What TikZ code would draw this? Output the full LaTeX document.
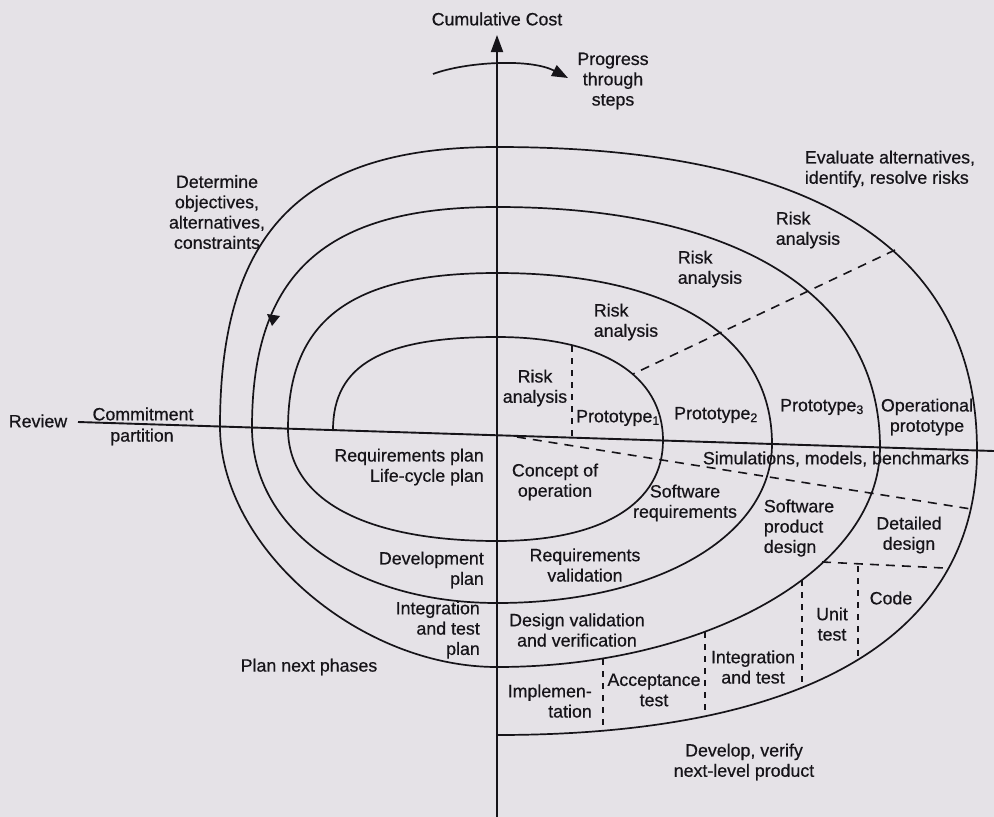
\documentclass[tikz,border=0pt]{standalone}
\usepackage{fontspec}
\setmainfont{Liberation Sans}[FakeBold=0.6]
\usetikzlibrary{arrows.meta}
\definecolor{paper}{RGB}{229,226,231}
\definecolor{ink}{RGB}{22,20,25}

\begin{document}
\begin{tikzpicture}[x=1pt,y=-1pt,
  lbl/.style={inner sep=0pt, text=ink, font=\fontsize{17.8}{20.3}\selectfont},
  curve/.style={draw=ink, line width=1.7pt},
  axisline/.style={draw=ink, line width=1.9pt},
  guide/.style={draw=ink, line width=1.6pt, dash pattern=on 9pt off 7pt},
  tick/.style={draw=ink, line width=1.6pt, dash pattern=on 6pt off 6pt},
]
\fill[paper] (0,0) rectangle (994,817);
\useasboundingbox (0,0) rectangle (994,817);

% axes
\coordinate (ytop) at (497,35);
\coordinate (ybot) at (497,817);
\coordinate (xleft) at (78,422);
\coordinate (xright) at (994,451);
\draw[axisline] (xleft) -- (xright);
\draw[axisline, -{Triangle[length=17pt,width=12pt]}] (ybot) -- (ytop);

% spiral, one quarter per quadrant
\coordinate (s0) at (333,430);
\coordinate (t1) at (497,337);
\coordinate (r1) at (663,440.5);
\coordinate (b1) at (497,541);
\coordinate (l2) at (288,428.7);
\coordinate (t2) at (497,273);
\coordinate (r2) at (772,444);
\coordinate (b2) at (497,603);
\coordinate (l3) at (252,427.5);
\coordinate (t3) at (497,207);
\coordinate (r3) at (880,447.4);
\coordinate (b3) at (497,667);
\coordinate (l4) at (220,426.5);
\coordinate (t4) at (497,147);
\coordinate (r4) at (977,450.5);
\coordinate (b4) at (497,735);
\draw[curve, line join=round]
 (s0) .. controls +(0,-65) and +(-115,0) .. (t1)
 .. controls +(105,0) and +(0,-65) .. (r1)
 .. controls +(0,63) and +(105,0) .. (b1)
 .. controls +(-132,0) and +(0,71) .. (l2)
 .. controls +(0,-109) and +(-146,0) .. (t2)
 .. controls +(173,0) and +(0,-108) .. (r2)
 .. controls +(0,92) and +(160,0) .. (b2)
 .. controls +(-142,0) and +(0,102) .. (l3)
 .. controls +(0,-154) and +(-172,0) .. (t3)
 .. controls +(241,0) and +(0,-152) .. (r3)
 .. controls +(0,121) and +(211,0) .. (b3)
 .. controls +(-139,0) and +(0,120) .. (l4)
 .. controls +(0,-196) and +(-194,0) .. (t4)
 .. controls +(320,0) and +(0,-200) .. (r4)
 .. controls +(0,185) and +(312,0) .. (b4);

% direction mark on the spiral
\fill[ink] (267,314) -- (280,316) -- (272,326) -- cycle;

% progress arrow
\coordinate (pa) at (433,74);
\coordinate (pb) at (568,78);
\draw[curve, -{Triangle[length=16pt,width=12pt]}] (pa) .. controls (465,62) and (530,58) .. (pb);

% dashed partitions
\draw[tick] (572,346) -- (572,436);
\draw[guide] (895,250) -- (633,374);
\draw[guide] (517,437) -- (971,509);
\draw[guide] (822,562) -- (944,568);
\draw[tick] (858,566) -- (858,661);
\draw[tick] (802,580) -- (802,688);
\draw[tick] (705,632) -- (705,717);
\draw[tick] (603,659) -- (603,731);

% labels
\node[lbl] (cost) at (497,19) {Cumulative Cost};
\node[lbl, align=center] (prog) at (613,81) {Progress\\through\\steps};
\node[lbl, align=left] (eval) at (890,169) {Evaluate alternatives,\\identify, resolve risks};
\node[lbl, align=center] (det) at (217,212) {Determine\\objectives,\\alternatives,\\constraints};
\node[lbl, align=left] (risk4) at (808,230) {Risk\\analysis};
\node[lbl, align=left] (risk3) at (710,269) {Risk\\analysis};
\node[lbl, align=left] (risk2) at (626,322) {Risk\\analysis};
\node[lbl, align=center] (risk1) at (535,388) {Risk\\analysis};
\node[lbl] (pro1) at (618,418) {Prototype\textsubscript{1}};
\node[lbl] (pro2) at (716,415) {Prototype\textsubscript{2}};
\node[lbl] (pro3) at (822,407) {Prototype\textsubscript{3}};
\node[lbl, align=center] (oper) at (927,417) {Operational\\prototype};
\node[lbl] (review) at (38,421) {Review};
\node[lbl] (commit) at (143,414) {Commitment};
\node[lbl] (part) at (142,437) {partition};
\node[lbl, align=right, anchor=east] (reqplan) at (484,467) {Requirements plan\\Life-cycle plan};
\node[lbl, align=right, anchor=east] (devplan) at (484,570) {Development\\plan};
\node[lbl, align=right, anchor=east] (intplan) at (480,630) {Integration\\and test\\plan};
\node[lbl] (next) at (309,667) {Plan next phases};
\node[lbl, align=center] (concept) at (555,482) {Concept of\\operation};
\node[lbl, align=center] (swreq) at (685,503) {Software\\requirements};
\node[lbl] (sim) at (836,459) {Simulations, models, benchmarks};
\node[lbl, align=left] (swprod) at (799,528) {Software\\product\\design};
\node[lbl, align=center] (detd) at (909,535) {Detailed\\design};
\node[lbl, align=center] (reqval) at (585,565) {Requirements\\validation};
\node[lbl, align=center] (desval) at (577,630) {Design validation\\and verification};
\node[lbl, align=right, anchor=east] (impl) at (592,701) {Implemen-\\tation};
\node[lbl, align=center] (acc) at (654,690) {Acceptance\\test};
\node[lbl, align=center] (integ) at (753,667) {Integration\\and test};
\node[lbl, align=center] (unit) at (832,624) {Unit\\test};
\node[lbl] (code) at (891,598) {Code};
\node[lbl, align=center] (dev) at (744,762) {Develop, verify\\next-level product};
\end{tikzpicture}
\end{document}
